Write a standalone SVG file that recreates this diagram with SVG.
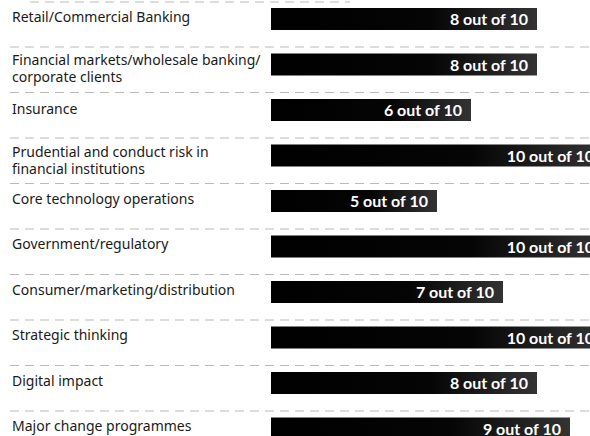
<svg xmlns="http://www.w3.org/2000/svg" width="590" height="436" viewBox="0 0 590 436">
<style>
.lbl{font-family:"Noto Sans","Open Sans",sans-serif;font-size:14px;fill:#1a1a1a}
.val{font-family:"Lato","Noto Sans",sans-serif;font-size:16px;font-weight:bold;fill:#fff;text-anchor:end}
.sep{stroke:#a8a8a8;stroke-width:0.8;stroke-dasharray:9 6;fill:none}
.bar{fill:url(#g)}
</style>
<defs>
<linearGradient id="g" x1="0" x2="1" y1="0" y2="0">
<stop offset="0" stop-color="#000"/>
<stop offset="0.6" stop-color="#050505"/>
<stop offset="1" stop-color="#333"/>
</linearGradient>
</defs>
<rect width="590" height="436" fill="#fff"/>
<g id="separators">
<line class="sep" x1="30" y1="2" x2="350" y2="2"/>
<line class="sep" x1="10" y1="47" x2="590" y2="47"/>
<line class="sep" x1="10" y1="92.5" x2="590" y2="92.5"/>
<line class="sep" x1="10" y1="138" x2="590" y2="138"/>
<line class="sep" x1="10" y1="183.5" x2="590" y2="183.5"/>
<line class="sep" x1="10" y1="229" x2="590" y2="229"/>
<line class="sep" x1="10" y1="274.5" x2="590" y2="274.5"/>
<line class="sep" x1="10" y1="320" x2="590" y2="320"/>
<line class="sep" x1="10" y1="365.5" x2="590" y2="365.5"/>
<line class="sep" x1="10" y1="411" x2="590" y2="411"/>
</g>
<g id="row1"><text class="lbl" x="12" y="22">Retail/Commercial Banking</text><rect class="bar" x="271" y="8" width="266" height="22"/><text class="val" x="528" y="25">8 out of 10</text></g>
<g id="row2"><text class="lbl" x="12" y="65">Financial markets/wholesale banking/</text><text class="lbl" x="12" y="82">corporate clients</text><rect class="bar" x="271" y="53.5" width="266" height="22"/><text class="val" x="528" y="70.5">8 out of 10</text></g>
<g id="row3"><text class="lbl" x="12" y="114">Insurance</text><rect class="bar" x="271" y="99" width="200" height="22"/><text class="val" x="462" y="116">6 out of 10</text></g>
<g id="row4"><text class="lbl" x="12" y="157">Prudential and conduct risk in</text><text class="lbl" x="12" y="174">financial institutions</text><rect class="bar" x="271" y="144.5" width="332" height="22"/><text class="val" x="594" y="161.5">10 out of 10</text></g>
<g id="row5"><text class="lbl" x="12" y="204">Core technology operations</text><rect class="bar" x="271" y="190" width="166" height="22"/><text class="val" x="428" y="207">5 out of 10</text></g>
<g id="row6"><text class="lbl" x="12" y="249">Government/regulatory</text><rect class="bar" x="271" y="235.5" width="332" height="22"/><text class="val" x="594" y="252.5">10 out of 10</text></g>
<g id="row7"><text class="lbl" x="12" y="295">Consumer/marketing/distribution</text><rect class="bar" x="271" y="281" width="232" height="22"/><text class="val" x="494" y="298">7 out of 10</text></g>
<g id="row8"><text class="lbl" x="12" y="340">Strategic thinking</text><rect class="bar" x="271" y="326.5" width="332" height="22"/><text class="val" x="594" y="343.5">10 out of 10</text></g>
<g id="row9"><text class="lbl" x="12" y="386">Digital impact</text><rect class="bar" x="271" y="372" width="266" height="22"/><text class="val" x="528" y="389">8 out of 10</text></g>
<g id="row10"><text class="lbl" x="12" y="431">Major change programmes</text><rect class="bar" x="271" y="417.5" width="299" height="22"/><text class="val" x="561" y="434.5">9 out of 10</text></g>
</svg>
